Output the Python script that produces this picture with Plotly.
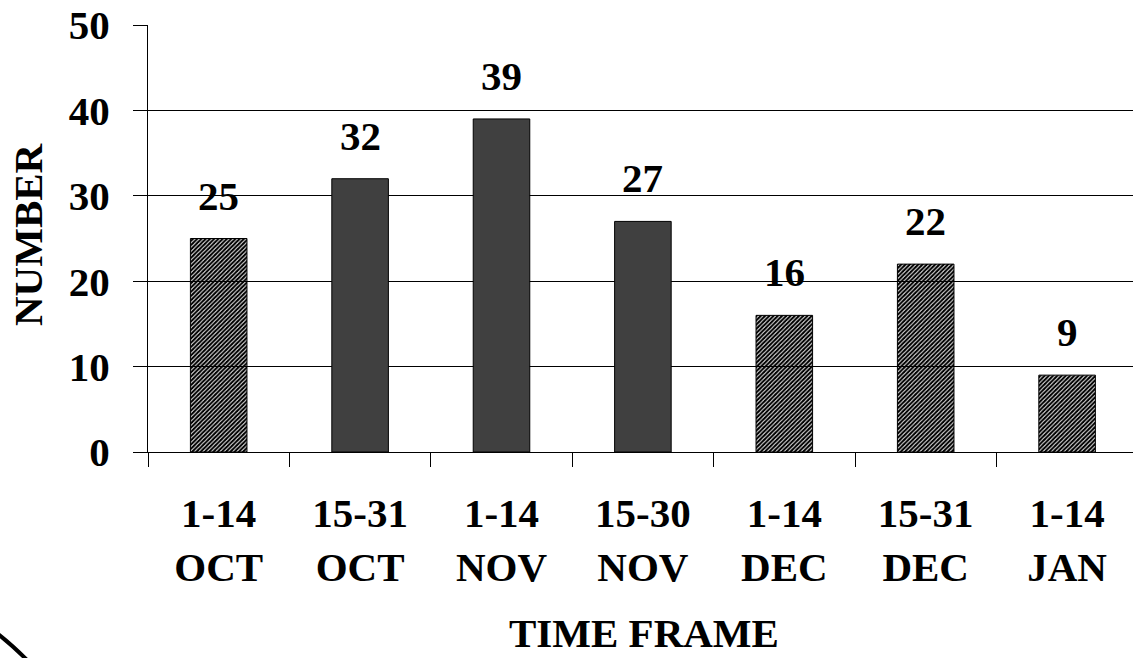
import plotly.graph_objects as go

categories = ["1-14<br>OCT", "15-31<br>OCT", "1-14<br>NOV", "15-30<br>NOV",
              "1-14<br>DEC", "15-31<br>DEC", "1-14<br>JAN"]
values = [25, 32, 39, 27, 16, 22, 9]
hatched = [True, False, False, False, True, True, True]
y_ticks = [0, 10, 20, 30, 40, 50]

W, H = 1133, 658
L, T, B = 148, 25, 206
PW = W - L
PH = H - T - B
FONT = "Liberation Serif, Times New Roman, serif"
FS = 41


def px(x):
    return (x - L) / PW


def py(y):
    return (H - B - y) / PH


shapes_pat = ["/" if h else "" for h in hatched]
colors = ["#000000" if h else "#404040" for h in hatched]
bgs = ["#ffffff" if h else "#404040" for h in hatched]

fig = go.Figure(go.Bar(
    x=categories, y=values, width=0.4,
    marker=dict(color=colors, line=dict(color="#000000", width=1),
                pattern=dict(shape=shapes_pat, fgcolor=colors, bgcolor=bgs,
                             size=3, solidity=0.7, fillmode="replace")),
    hoverinfo="x+y",
))

annotations = []
for c, v in zip(categories, values):
    annotations.append(dict(x=c, y=v, text=f"<b>{v}</b>", showarrow=False,
                            yanchor="middle", yshift=43,
                            font=dict(family=FONT, size=FS, color="#000")))
annotations.append(dict(x=px(644), y=py(633), xref="paper", yref="paper",
                        text="<b>TIME FRAME</b>", showarrow=False,
                        xanchor="center", yanchor="middle",
                        font=dict(family=FONT, size=FS, color="#000")))
annotations.append(dict(x=px(28), y=py(235), xref="paper", yref="paper",
                        text="<b>NUMBER</b>", showarrow=False, textangle=-90,
                        xanchor="center", yanchor="middle",
                        font=dict(family=FONT, size=FS, color="#000")))

arc = dict(type="path", xref="paper", yref="paper",
           path=f"M {px(-2)},{py(634)} Q {px(12)},{py(645)} {px(27)},{py(660)}",
           line=dict(color="#000", width=4))

fig.update_layout(
    width=W, height=H,
    margin=dict(l=L, r=0, t=T, b=B, pad=0),
    paper_bgcolor="white", plot_bgcolor="white",
    showlegend=False,
    annotations=annotations,
    shapes=[arc],
    xaxis=dict(type="category", categoryorder="array", categoryarray=categories,
               range=[-0.5, -0.5 + PW / 141.4],
               tickvals=categories,
               ticktext=[f"<b>{c}</b>" for c in categories],
               showline=True, linecolor="#000", linewidth=1,
               ticks="outside", tickson="boundaries", ticklen=14,
               tickcolor="#000", tickwidth=1, showgrid=False,
               tickfont=dict(family=FONT, size=FS, color="#000"),
               ticklabelstandoff=25),
    yaxis=dict(range=[0, 50], tickvals=y_ticks,
               ticktext=[f"<b>{t}</b>" for t in y_ticks],
               showline=True, linecolor="#000", linewidth=1,
               ticks="outside", ticklen=14, tickcolor="#000", tickwidth=1,
               showgrid=True, gridcolor="#000", gridwidth=1,
               zeroline=False,
               tickfont=dict(family=FONT, size=FS, color="#000"),
               ticklabelstandoff=15),
)

fig.write_html("out.html", config={"displayModeBar": False},
               post_script="document.body.style.margin='0';document.body.style.overflow='hidden';")
